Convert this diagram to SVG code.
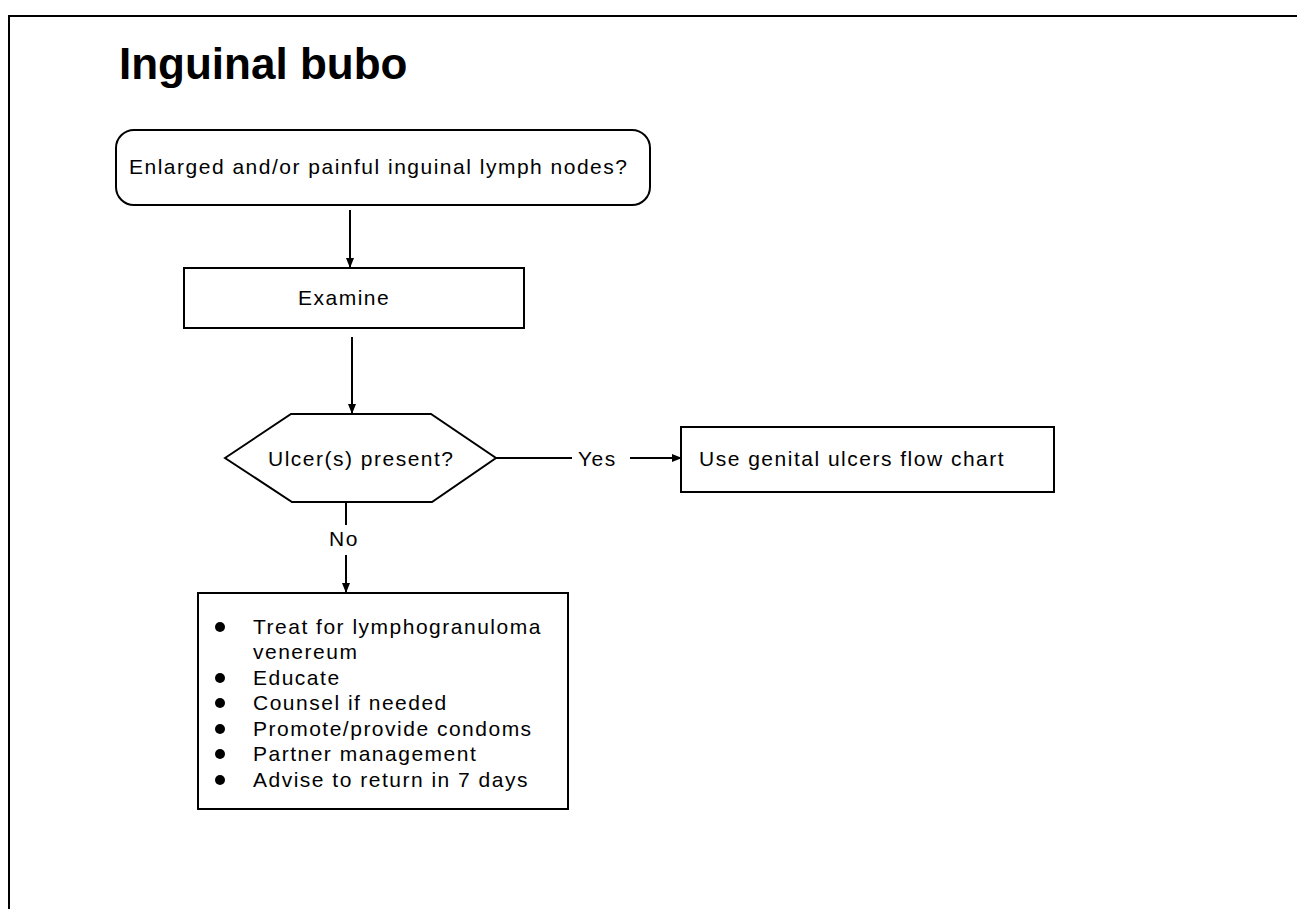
<svg xmlns="http://www.w3.org/2000/svg" width="1297" height="909" viewBox="0 0 1297 909">
<defs>
<style>
.t{font-family:"Liberation Sans",Arial,sans-serif;font-size:21px;letter-spacing:1.5px;fill:#000}
.title{font-family:"Liberation Sans",Arial,sans-serif;font-size:44px;font-weight:bold;fill:#000}
.box{fill:#fff;stroke:#000;stroke-width:2}
.ln{fill:none;stroke:#000;stroke-width:2}
</style>
<marker id="ah" viewBox="0 0 10 10" refX="9" refY="5" markerWidth="10" markerHeight="10" markerUnits="userSpaceOnUse" orient="auto">
<path d="M0,1 L10,5 L0,9 Z" fill="#000"/>
</marker>
</defs>
<rect width="1297" height="909" fill="#fff"/>
<path d="M9,909 V16 H1297" fill="none" stroke="#000" stroke-width="2"/>
<text class="title" x="119" y="79">Inguinal bubo</text>

<g id="connectors">
<line class="ln" x1="350" y1="210" x2="350" y2="267" marker-end="url(#ah)"/>
<line class="ln" x1="352" y1="337" x2="352" y2="413" marker-end="url(#ah)"/>
<line class="ln" x1="496" y1="458" x2="572" y2="458"/>
<text class="t" x="578" y="466">Yes</text>
<line class="ln" x1="630" y1="458" x2="681" y2="458" marker-end="url(#ah)"/>
<line class="ln" x1="346" y1="502" x2="346" y2="525"/>
<text class="t" x="344" y="546" text-anchor="middle">No</text>
<line class="ln" x1="346" y1="555" x2="346" y2="592" marker-end="url(#ah)"/>
</g>

<g id="start">
<rect class="box" x="116" y="130" width="534" height="75" rx="18" ry="18"/>
<text class="t" x="129" y="174">Enlarged and/or painful inguinal lymph nodes?</text>
</g>

<g id="examine">
<rect class="box" x="184" y="268" width="340" height="60"/>
<text class="t" x="298" y="305">Examine</text>
</g>

<g id="ulcer">
<polygon class="box" points="225,458 291,414 431,414 496,458 432,502 292,502"/>
<text class="t" x="268" y="466">Ulcer(s) present?</text>
</g>

<g id="genital">
<rect class="box" x="681" y="427" width="373" height="65"/>
<text class="t" x="699" y="466" letter-spacing="1.2">Use genital ulcers flow chart</text>
</g>

<g id="treat">
<rect class="box" x="198" y="593" width="370" height="216"/>
<circle cx="220" cy="627" r="5"/>
<text class="t" x="253" y="634">Treat for lymphogranuloma</text>
<text class="t" x="253" y="659">venereum</text>
<circle cx="220" cy="678" r="5"/>
<text class="t" x="253" y="685">Educate</text>
<circle cx="220" cy="703" r="5"/>
<text class="t" x="253" y="710">Counsel if needed</text>
<circle cx="220" cy="729" r="5"/>
<text class="t" x="253" y="736">Promote/provide condoms</text>
<circle cx="220" cy="754" r="5"/>
<text class="t" x="253" y="761">Partner management</text>
<circle cx="220" cy="780" r="5"/>
<text class="t" x="253" y="787">Advise to return in 7 days</text>
</g>
</svg>
